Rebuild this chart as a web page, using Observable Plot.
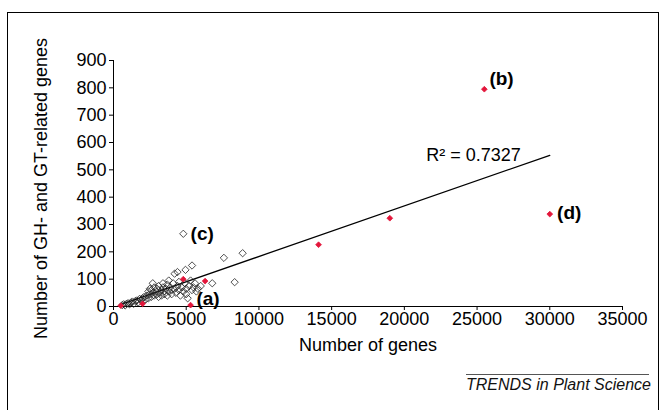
<!DOCTYPE html>
<html>
<head>
<meta charset="utf-8">
<script src="https://cdn.jsdelivr.net/npm/d3@7"></script>
<script src="https://cdn.jsdelivr.net/npm/@observablehq/plot@0.6"></script>
<style>
  html, body { margin: 0; padding: 0; background: #fff; }
  #wrap { position: relative; width: 668px; height: 410px; overflow: hidden; background: #fff; font-family: "Liberation Sans", Arial, sans-serif; }
  #frame { position: absolute; left: 7px; top: 12px; width: 652px; height: 430px; border: 1px solid #000; box-sizing: border-box; }
  #chart { position: absolute; left: 0; top: 0; }
  #caption { position: absolute; left: 466px; top: 374px; width: 183px; border-top: 1px solid #555; padding-top: 1px; font-style: italic; font-size: 16px; color: #111; text-align: right; white-space: nowrap; }
</style>
</head>
<body>
<div id="wrap">
  <div id="frame"></div>
  <div id="chart"></div>
  <div id="caption">TRENDS in Plant Science</div>
</div>
<script>
// Open diamonds: genomes (number of genes, number of GH- and GT-related genes)
const openX = [600, 700, 800, 900, 1000, 1100, 1200, 1300, 1400, 1500, 1600, 1700, 1800, 1900, 2000, 2000, 2100, 2200, 2300, 2400, 2400, 2500, 2500, 2600, 2600, 2700, 2700, 2800, 2800, 2900, 3000, 3000, 3100, 3100, 3200, 3300, 3300, 3400, 3400, 3500, 3500, 3600, 3700, 3700, 3800, 3800, 3900, 4000, 4000, 4100, 4200, 4200, 4300, 4400, 4400, 4500, 4500, 4600, 4700, 4800, 4800, 4900, 4950, 5000, 5000, 5100, 5200, 5300, 5400, 5400, 5500, 5600, 5700, 5800, 6000, 6790, 7590, 8330, 8880];
const openY = [5, 8, 4, 10, 12, 8, 15, 18, 10, 20, 22, 15, 28, 25, 30, 18, 35, 25, 40, 30, 55, 45, 65, 35, 60, 50, 85, 40, 70, 55, 45, 65, 75, 35, 50, 60, 40, 70, 85, 55, 45, 65, 80, 40, 55, 95, 70, 60, 45, 85, 120, 65, 50, 126, 75, 90, 60, 40, 70, 55, 266, 85, 134, 65, 45, 30, 75, 95, 150, 60, 70, 85, 55, 65, 75, 85, 178, 89, 195];
// Red filled diamonds
const redX = [500, 2000, 4800, 5300, 6300, 14100, 19000, 25500, 30000];
const redY = [3, 10, 100, 5, 93, 226, 323, 795, 338];
// Linear trend line
const trendSlope = 0.0185;
const trendIntercept = -2;
const trendXRange = [480, 30000];
const r2Text = "R\u00B2 = 0.7327";
const r2Pos = [21500, 534];
// Annotations
const annoText = ["(a)", "(b)", "(c)", "(d)"];
const annoX = [5700, 25850, 5300, 30500];
const annoY = [29, 834, 267, 344];
// Axes
const xTicks = [0, 5000, 10000, 15000, 20000, 25000, 30000, 35000];
const yTicks = [0, 100, 200, 300, 400, 500, 600, 700, 800, 900];
const xTitle = "Number of genes";
const yTitle = "Number of GH- and GT-related genes";

const openPts = openX.map((x, i) => ({x, y: openY[i]}));
const redPts = redX.map((x, i) => ({x, y: redY[i]}));
const trendPts = trendXRange.map(x => ({x, y: trendSlope * x + trendIntercept}));
const annos = annoText.map((t, i) => ({t, x: annoX[i], y: annoY[i]}));

const chart = Plot.plot({
  width: 668,
  height: 360,
  marginLeft: 113,
  marginRight: 46,
  marginTop: 60,
  marginBottom: 54,
  style: {fontFamily: "'Liberation Sans', Arial, sans-serif", fontSize: "18px", color: "#000", background: "transparent", overflow: "visible"},
  x: {domain: [0, 35000]},
  y: {domain: [0, 900]},
  marks: [
    Plot.ruleY([0], {stroke: "#000", strokeWidth: 1}),
    Plot.ruleX([0], {stroke: "#000", strokeWidth: 1}),
    Plot.axisX({ticks: xTicks, tickFormat: d => String(d), tickSize: 4, tickPadding: 2, label: null, fontSize: 18}),
    Plot.axisY({ticks: yTicks, tickFormat: d => String(d), tickSize: 4, tickPadding: 3, label: null, fontSize: 18}),
    Plot.line(trendPts, {x: "x", y: "y", stroke: "#000", strokeWidth: 1.3}),
    Plot.dot(openPts, {x: "x", y: "y", symbol: "diamond2", r: 3.3, stroke: "#222", strokeWidth: 0.8, fill: "none"}),
    Plot.dot(redPts, {x: "x", y: "y", symbol: "diamond2", r: 2.6, fill: "#e3163b", stroke: "#e3163b", strokeWidth: 0.8}),
    Plot.text(annos, {x: "x", y: "y", text: "t", textAnchor: "start", fontWeight: "bold", fontSize: 19, fill: "#000"}),
    Plot.text([r2Text], {x: () => r2Pos[0], y: () => r2Pos[1], text: d => d, textAnchor: "start", lineAnchor: "bottom", fontSize: 18, fill: "#000"}),
    Plot.text([xTitle], {frameAnchor: "bottom", dy: 44, text: d => d, fontSize: 18, fill: "#000"}),
    Plot.text([yTitle], {frameAnchor: "left", dx: -72, dy: 5, rotate: -90, textAnchor: "middle", text: d => d, fontSize: 18, fill: "#000"})
  ]
});
document.getElementById("chart").appendChild(chart);
</script>
</body>
</html>
